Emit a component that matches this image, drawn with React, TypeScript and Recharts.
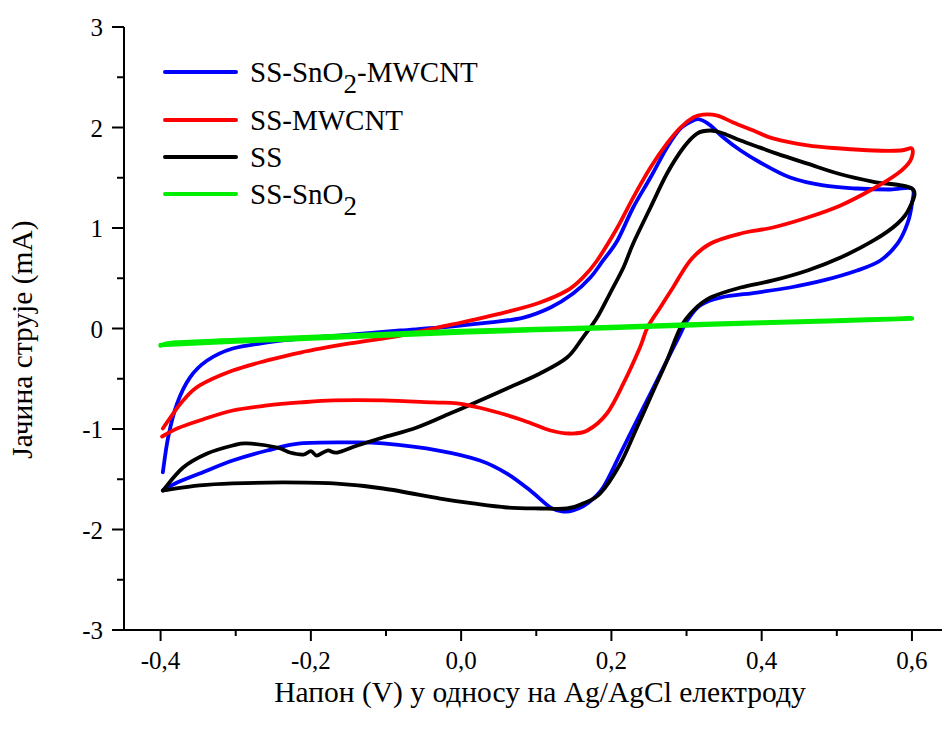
import React from 'react';
import { LineChart, Line, XAxis, YAxis, Legend } from 'recharts';

// Voltage (V) vs current (mA) pairs, in sweep order
const ssSnO2Mwcnt: [number, number][] = [
  [-0.397, -1.43], [-0.39, -1.085], [-0.378, -0.746], [-0.361, -0.488], [-0.338, -0.318],
  [-0.304, -0.199], [-0.258, -0.139], [-0.214, -0.1], [-0.148, -0.06], [-0.081, -0.02],
  [-0.028, 0.01], [0.039, 0.06], [0.083, 0.109], [0.119, 0.209], [0.149, 0.348],
  [0.172, 0.507], [0.189, 0.677], [0.208, 0.876], [0.229, 1.204], [0.252, 1.502],
  [0.274, 1.801], [0.292, 1.99], [0.309, 2.07], [0.318, 2.08], [0.332, 2.02],
  [0.349, 1.9], [0.372, 1.771], [0.398, 1.652], [0.438, 1.502], [0.482, 1.423],
  [0.527, 1.393], [0.571, 1.383], [0.6, 1.393],
  [0.6, 1.244], [0.594, 1.045], [0.581, 0.846], [0.558, 0.677], [0.527, 0.577],
  [0.482, 0.478], [0.438, 0.408], [0.394, 0.358], [0.345, 0.308], [0.318, 0.229],
  [0.301, 0.08], [0.292, -0.05], [0.274, -0.318], [0.256, -0.587], [0.234, -0.915],
  [0.212, -1.244], [0.189, -1.582], [0.168, -1.741], [0.149, -1.811], [0.136, -1.821],
  [0.119, -1.781], [0.092, -1.612], [0.061, -1.443], [0.025, -1.313], [-0.03, -1.214],
  [-0.104, -1.144], [-0.148, -1.134], [-0.214, -1.144], [-0.258, -1.214], [-0.304, -1.313],
  [-0.348, -1.443], [-0.378, -1.532], [-0.397, -1.612],
];

const ssMwcnt: [number, number][] = [
  [-0.397, -0.995], [-0.387, -0.886], [-0.37, -0.716], [-0.348, -0.567], [-0.304, -0.418],
  [-0.258, -0.318], [-0.214, -0.239], [-0.148, -0.149], [-0.081, -0.07], [-0.015, 0.035],
  [0.016, 0.085], [0.061, 0.165], [0.105, 0.259], [0.141, 0.378], [0.162, 0.507],
  [0.181, 0.677], [0.208, 1.005], [0.229, 1.303], [0.252, 1.602], [0.274, 1.841],
  [0.292, 2.0], [0.309, 2.1], [0.322, 2.129], [0.341, 2.119], [0.362, 2.05],
  [0.389, 1.97], [0.415, 1.891], [0.461, 1.821], [0.505, 1.791], [0.549, 1.771],
  [0.585, 1.771], [0.6, 1.79],
  [0.598, 1.672], [0.581, 1.542], [0.549, 1.393], [0.505, 1.224], [0.461, 1.104],
  [0.415, 1.005], [0.372, 0.945], [0.332, 0.846], [0.305, 0.677], [0.282, 0.408],
  [0.265, 0.209], [0.248, 0.01], [0.238, -0.189], [0.216, -0.547], [0.194, -0.846],
  [0.168, -1.015], [0.145, -1.045], [0.119, -1.015], [0.083, -0.915], [0.039, -0.816],
  [-0.005, -0.746], [-0.037, -0.736], [-0.104, -0.716], [-0.17, -0.716], [-0.214, -0.736],
  [-0.258, -0.766], [-0.304, -0.816], [-0.348, -0.915], [-0.378, -0.995], [-0.398, -1.075],
];

const ss: [number, number][] = [
  [-0.397, -1.612], [-0.37, -1.383], [-0.338, -1.244], [-0.304, -1.164], [-0.285, -1.144],
  [-0.245, -1.184], [-0.228, -1.234], [-0.21, -1.254], [-0.2, -1.22], [-0.192, -1.264],
  [-0.178, -1.214], [-0.165, -1.234], [-0.138, -1.164], [-0.104, -1.085], [-0.059, -0.985],
  [-0.015, -0.846], [0.016, -0.746], [0.061, -0.597], [0.105, -0.448], [0.141, -0.289],
  [0.162, -0.09], [0.181, 0.109], [0.198, 0.348], [0.216, 0.607], [0.229, 0.846],
  [0.252, 1.204], [0.274, 1.542], [0.296, 1.801], [0.314, 1.94], [0.332, 1.97],
  [0.349, 1.94], [0.372, 1.87], [0.398, 1.8], [0.42, 1.74], [0.461, 1.64],
  [0.505, 1.535], [0.549, 1.46], [0.6, 1.393],
  [0.597, 1.204], [0.581, 1.045], [0.549, 0.876], [0.505, 0.706], [0.461, 0.577],
  [0.415, 0.478], [0.372, 0.408], [0.332, 0.308], [0.309, 0.179], [0.292, 0.01],
  [0.274, -0.318], [0.256, -0.617], [0.234, -0.985], [0.212, -1.343], [0.185, -1.642],
  [0.162, -1.741], [0.141, -1.791], [0.105, -1.791], [0.061, -1.781], [0.016, -1.741],
  [-0.028, -1.692], [-0.104, -1.592], [-0.17, -1.542], [-0.237, -1.532], [-0.304, -1.542],
  [-0.348, -1.562], [-0.397, -1.612],
];

const ssSnO2: [number, number][] = [
  [-0.4, -0.17], [-0.38, -0.14], [-0.3, -0.115], [-0.2, -0.085], [-0.1, -0.055],
  [0.0, -0.025], [0.1, -0.005], [0.2, 0.015], [0.3, 0.04], [0.4, 0.06],
  [0.5, 0.08], [0.6, 0.1],
  [0.5, 0.075], [0.4, 0.055], [0.3, 0.03], [0.2, 0.005], [0.1, -0.015],
  [0.0, -0.04], [-0.1, -0.07], [-0.2, -0.1], [-0.3, -0.13], [-0.4, -0.165],
];

const xTicks = [-0.4, -0.3, -0.2, -0.1, 0, 0.1, 0.2, 0.3, 0.4, 0.5, 0.6];
const yTicks = [-3, -2.5, -2, -1.5, -1, -0.5, 0, 0.5, 1, 1.5, 2, 2.5, 3];

const xTitle = 'Напон (V) у односу на Ag/AgCl електроду';
const yTitle = 'Јачина струје (mA)';

const FONT = '"Times New Roman", Times, "Liberation Serif", Tinos, "DejaVu Serif", "Noto Serif", FreeSerif, serif';

const toRows = (pairs: [number, number][]) => pairs.map(([x, y]) => ({ x, y }));

// Catmull-Rom curve factory (passes through every point, works for loops)
function catmullRom(context: any) {
  let pts: [number, number][] = [];
  return {
    areaStart() {},
    areaEnd() {},
    lineStart() { pts = []; },
    lineEnd() {
      const n = pts.length;
      if (n === 0) return;
      context.moveTo(pts[0][0], pts[0][1]);
      if (n === 1) return;
      for (let i = 0; i < n - 1; i++) {
        const p0 = pts[Math.max(0, i - 1)];
        const p1 = pts[i];
        const p2 = pts[i + 1];
        const p3 = pts[Math.min(n - 1, i + 2)];
        const c1x = p1[0] + (p2[0] - p0[0]) / 6;
        const c1y = p1[1] + (p2[1] - p0[1]) / 6;
        const c2x = p2[0] - (p3[0] - p1[0]) / 6;
        const c2y = p2[1] - (p3[1] - p1[1]) / 6;
        context.bezierCurveTo(c1x, c1y, c2x, c2y, p2[0], p2[1]);
      }
    },
    point(x: number, y: number) { pts.push([+x, +y]); },
  };
}

// legend order
const series = [
  { name: 'SS-SnO2-MWCNT', color: '#0000ff', data: toRows(ssSnO2Mwcnt) },
  { name: 'SS-MWCNT', color: '#ff0000', data: toRows(ssMwcnt) },
  { name: 'SS', color: '#000000', data: toRows(ss) },
  { name: 'SS-SnO2', color: '#00ee00', data: toRows(ssSnO2) },
];
// drawing order (bottom to top)
const drawOrder = [0, 2, 1, 3];

const textStyle = { fontFamily: FONT };

const XTick = (props: any) => {
  const { x, y, payload } = props;
  const v = payload.value;
  const major = Math.round(v * 10) % 2 === 0;
  return (
    <g>
      <line x1={x} x2={x} y1={y} y2={y + (major ? 11 : 6)} stroke="#000" strokeWidth={2} />
      {major && (
        <text x={x} y={y + 39} textAnchor="middle" style={textStyle} fontSize={25} fill="#000">
          {v.toFixed(1).replace('.', ',')}
        </text>
      )}
    </g>
  );
};

const YTick = (props: any) => {
  const { x, y, payload } = props;
  const v = payload.value;
  const major = Number.isInteger(v);
  return (
    <g>
      <line x1={x - (major ? 12 : 7)} x2={x} y1={y} y2={y} stroke="#000" strokeWidth={2} />
      {major && (
        <text x={x - 21} y={y + 9} textAnchor="end" style={textStyle} fontSize={25} fill="#000">
          {String(v)}
        </text>
      )}
    </g>
  );
};

const XTitle = (props: any) => {
  const vb = props.viewBox || {};
  return (
    <text x={vb.x + vb.width / 2 + 7} y={vb.y + 72} textAnchor="middle" style={textStyle} fontSize={29.5} fill="#000">
      {xTitle}
    </text>
  );
};

const YTitle = (props: any) => {
  const vb = props.viewBox || {};
  const cx = 22;
  const cy = vb.y + vb.height / 2 + 11;
  return (
    <text x={cx} y={cy} transform={`rotate(-90 ${cx} ${cy})`} textAnchor="middle" dominantBaseline="central" style={textStyle} fontSize={29.5} fill="#000">
      {yTitle}
    </text>
  );
};

const renderName = (name: string) => {
  const idx = name.indexOf('SnO2');
  if (idx < 0) return <tspan>{name}</tspan>;
  const before = name.slice(0, idx + 3);
  const after = name.slice(idx + 4);
  return (
    <>
      <tspan>{before}</tspan>
      <tspan dy={11} fontSize={27}>2</tspan>
      {after && <tspan dy={-11} fontSize={29}>{after}</tspan>}
    </>
  );
};

const legendRowY = [72, 120, 157, 194];

const LegendContent = () => (
  <svg width={600} height={230} style={{ display: 'block' }}>
    {series.map((s, i) => (
      <g key={s.name}>
        <line x1={165} x2={236} y1={legendRowY[i]} y2={legendRowY[i]} stroke={s.color} strokeWidth={4} strokeLinecap="round" />
        <text x={250} y={legendRowY[i] + 10} style={textStyle} fontSize={29} fill="#000">
          {renderName(s.name)}
        </text>
      </g>
    ))}
  </svg>
);

export default function App() {
  return (
    <div style={{ position: 'absolute', left: 0, top: 0, width: 942, height: 731, background: '#fff', overflow: 'hidden', fontFamily: FONT }}>
      <LineChart width={942} height={731} margin={{ top: 27, right: 0, bottom: 0, left: 0 }}>
        <XAxis
          xAxisId="bottom"
          dataKey="x"
          type="number"
          domain={[-0.4487, 0.64]}
          allowDataOverflow
          ticks={xTicks}
          interval={0}
          height={101}
          tickSize={0}
          tickMargin={0}
          tickLine={false}
          tick={<XTick />}
          axisLine={{ stroke: '#000', strokeWidth: 2 }}
          label={<XTitle />}
        />
        <XAxis
          xAxisId="top"
          orientation="top"
          dataKey="x"
          type="number"
          domain={[-0.4487, 0.64]}
          allowDataOverflow
          height={0}
          tick={false}
          tickLine={false}
          axisLine={{ stroke: '#000', strokeWidth: 2 }}
        />
        <YAxis
          dataKey="y"
          type="number"
          domain={[-3, 3]}
          allowDataOverflow
          ticks={yTicks}
          interval={0}
          width={124}
          tickSize={0}
          tickMargin={0}
          tickLine={false}
          tick={<YTick />}
          axisLine={{ stroke: '#000', strokeWidth: 2 }}
          label={<YTitle />}
        />
        <Legend
          layout="horizontal"
          align="center"
          verticalAlign="middle"
          content={<LegendContent />}
          wrapperStyle={{ position: 'absolute', left: 0, top: 0, width: 600, height: 230 }}
        />
        {drawOrder.map((i) => {
          const s = series[i];
          return (
            <Line
              key={s.name}
              xAxisId="bottom"
              data={s.data}
              dataKey="y"
              name={s.name}
              type={catmullRom as any}
              stroke={s.color}
              strokeWidth={i === 3 ? 4.5 : 3.8}
              dot={false}
              activeDot={false}
              strokeLinejoin="round"
              strokeLinecap="round"
              isAnimationActive={false}
            />
          );
        })}
      </LineChart>
    </div>
  );
}
